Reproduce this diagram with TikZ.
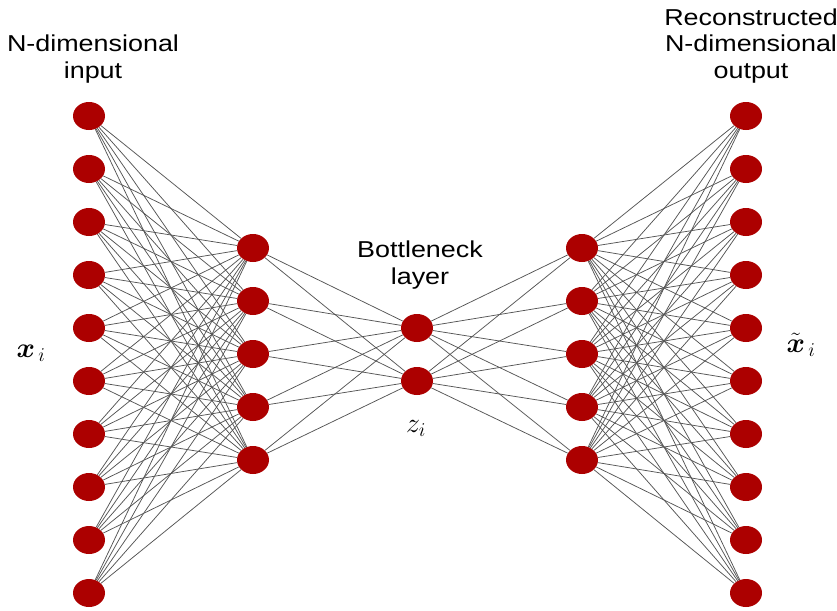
\RequirePackage{fix-cm}
\documentclass[tikz,border=0pt]{standalone}
\usepackage{fontspec}
\setmainfont{Liberation Sans}[FakeStretch=1.17]
\usepackage{amsmath}
\usetikzlibrary{shapes.geometric}
\definecolor{neur}{RGB}{172,0,0}
\definecolor{wire}{RGB}{85,85,85}
\tikzset{
  neuron/.style={ellipse,fill=neur,draw=none,minimum width=32pt,minimum height=28pt,inner sep=0pt},
  link/.style={draw=wire,line width=0.75pt},
  lbl/.style={font=\fontsize{23}{26.5}\selectfont,align=center,inner sep=0pt,anchor=base},
  mth/.style={font=\fontsize{28}{32}\selectfont,inner sep=0pt,anchor=base}
}
\begin{document}
\begin{tikzpicture}[x=1pt,y=-1pt]
\useasboundingbox (0,0) rectangle (837,610);
% layers
\foreach \k in {0,...,9} {
  \node[neuron] (a\k) at (89,116+53*\k) {};
  \node[neuron] (e\k) at (746,116+53*\k) {};
}
\foreach \k in {0,...,4} {
  \node[neuron] (b\k) at (253,248+53*\k) {};
  \node[neuron] (d\k) at (582,248+53*\k) {};
}
\foreach \k in {0,1} {
  \node[neuron] (c\k) at (417,328+53*\k) {};
}
% connections
\foreach \i in {0,...,9} \foreach \j in {0,...,4} {
  \draw[link] (a\i) -- (b\j);
  \draw[link] (d\j) -- (e\i);
}
\foreach \i in {0,...,4} \foreach \j in {0,1} {
  \draw[link] (b\i) -- (c\j);
  \draw[link] (c\j) -- (d\i);
}
% labels
\node[lbl] (tin) at (93,78) {N-dimensional\\input};
\node[lbl] (tout) at (751,78) {Reconstructed\\N-dimensional\\output};
\node[lbl] (tbn) at (420,284) {Bottleneck\\layer};
\node[mth] (xi) at (31,357) {$\boldsymbol{x}_{\,i}$};
\node[mth] (xo) at (801,352) {$\tilde{\boldsymbol{x}}_{\,i}$};
\node[mth] (zi) at (416,432) {$z_i$};
\end{tikzpicture}
\end{document}
